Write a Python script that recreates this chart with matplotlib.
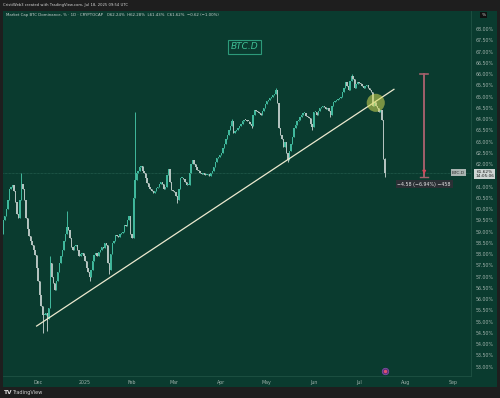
import numpy as np
import pandas as pd
import matplotlib
matplotlib.use("Agg")
import matplotlib.pyplot as plt
import matplotlib.dates as mdates
from matplotlib.patches import Rectangle

# daily closes of BTC.D (%), Nov 8 2024 .. Jul 18 2025
nov = [59.5, 59.7, 60.0, 60.4, 60.9, 61.0, 61.05, 60.8, 60.3, 59.8, 59.6, 60.4,
       61.1, 60.9, 60.4, 59.6, 59.1, 58.8, 58.6, 58.4, 58.2, 57.95, 57.4]
dec = [56.8, 56.2, 55.7, 55.3, 55.3, 55.4, 55.1, 55.6, 57.6, 57.0, 56.7, 56.4,
       56.8, 57.2, 57.6, 57.9, 58.2, 58.6, 58.9, 59.2, 59.05, 58.7, 58.3, 58.2,
       58.35, 58.4, 58.2, 57.9, 58.0, 58.05, 57.9]
jan = [57.7, 57.4, 57.2, 57.0, 57.3, 57.7, 57.95, 58.05, 57.9, 58.1, 58.2, 58.3,
       58.25, 58.5, 58.4, 57.6, 57.3, 58.0, 58.5, 58.6, 58.85, 58.8, 58.75, 58.9,
       58.95, 59.0, 59.3, 59.25, 59.5, 59.7, 58.9]
feb = [58.7, 60.5, 61.3, 61.6, 61.7, 61.85, 61.9, 61.7, 61.6, 61.4, 61.15, 61.0,
       60.9, 60.8, 60.7, 60.8, 60.95, 61.0, 61.1, 61.2, 61.1, 60.9, 61.0, 61.5,
       61.8, 61.2, 60.85, 60.8]
mar = [60.75, 60.6, 60.4, 60.9, 61.4, 61.4, 61.35, 61.2, 61.05, 61.05, 61.6, 62.0,
       62.2, 62.0, 61.85, 61.75, 61.7, 61.6, 61.55, 61.6, 61.5, 61.5, 61.55, 61.45,
       61.6, 61.7, 61.87, 62.1, 62.25, 62.3, 62.4]
apr = [62.5, 62.7, 62.9, 63.1, 63.3, 63.5, 63.7, 63.9, 63.4, 63.45, 63.5, 63.6,
       63.7, 63.8, 63.9, 63.96, 63.95, 63.9, 63.87, 63.8, 63.7, 64.2, 64.4, 64.35,
       64.3, 64.25, 64.2, 64.35, 64.5, 64.65]
may = [64.8, 64.85, 64.95, 65.0, 65.05, 65.1, 65.3, 64.7, 63.6, 63.3, 63.1, 62.75,
       63.0, 62.5, 62.2, 62.6, 62.9, 63.2, 63.6, 63.75, 63.9, 63.96, 64.1, 64.2,
       64.25, 64.26, 64.15, 64.1, 64.05, 63.8, 63.65]
jun = [64.3, 64.3, 64.2, 64.35, 64.5, 64.55, 64.6, 64.55, 64.45, 64.5, 64.35, 64.2,
       64.6, 64.75, 64.8, 64.85, 64.9, 64.95, 65.0, 65.2, 65.4, 65.65, 65.45, 65.3,
       65.7, 65.9, 65.8, 65.4, 65.55, 65.65]
jul = [65.6, 65.55, 65.45, 65.4, 65.45, 65.5, 65.4, 65.3, 65.2, 64.6, 64.75, 64.6,
       64.5, 64.3, 64.4, 63.96, 62.24, 61.62]
first_open = 58.9

# notable wicks
wick_high = {"2024-11-20": 61.6, "2024-12-09": 57.9, "2024-12-20": 59.9,
             "2025-02-03": 64.3, "2025-04-08": 64.0, "2025-05-07": 65.4,
             "2025-06-26": 66.0, "2025-07-18": 62.28}
wick_low = {"2024-12-04": 54.5, "2024-12-07": 54.6, "2025-01-04": 56.8,
            "2025-01-17": 57.1, "2025-03-03": 60.27, "2025-04-21": 63.6,
            "2025-05-15": 62.1, "2025-05-31": 63.5, "2025-06-12": 64.1,
            "2025-07-18": 61.43}

month_ticks = ["2024-12-01", "2025-01-01", "2025-02-01", "2025-03-01", "2025-04-01",
               "2025-05-01", "2025-06-01", "2025-07-01", "2025-08-01", "2025-09-01"]
month_labels = ["Dec", "2025", "Feb", "Mar", "Apr", "May", "Jun", "Jul", "Aug", "Sep"]
# 61.50% sits under the last-price label, so it is not listed
price_ticks = [53.0, 53.5, 54.0, 54.5, 55.0, 55.5, 56.0, 56.5, 57.0, 57.5, 58.0, 58.5,
               59.0, 59.5, 60.0, 60.5, 61.0, 62.0, 62.5, 63.0, 63.5, 64.0, 64.5,
               65.0, 65.5, 66.0, 66.5, 67.0, 67.5, 68.0]

trend_start = ("2024-11-30", 54.8)
trend_end = ("2025-07-24", 65.32)
measure_top = 66.0
measure_bottom = 61.42
last_price = 61.62

BG = "#0a3b2f"
FRAME = "#1e1e1e"
UP = "#40b89c"
DOWN = "#b3c2be"
TXT = "#9fb1ab"

closes = np.array(nov + dec + jan + feb + mar + apr + may + jun + jul)
dates = pd.date_range("2024-11-08", periods=len(closes), freq="D")
opens = np.r_[first_open, closes[:-1]]
highs = np.maximum(opens, closes)
lows = np.minimum(opens, closes)
for d, v in wick_high.items():
    highs[dates.get_loc(pd.Timestamp(d))] = v
for d, v in wick_low.items():
    lows[dates.get_loc(pd.Timestamp(d))] = v

x = mdates.date2num(dates)
colors = np.where(closes >= opens, UP, DOWN)

fig = plt.figure(figsize=(5, 3.98), dpi=100)
fig.patch.set_facecolor(FRAME)
fig.patches.append(Rectangle((3 / 500, 1 - 387 / 398), 494 / 500, 376 / 398,
                             transform=fig.transFigure, facecolor=BG, edgecolor="none", zorder=-10))

ax = fig.add_axes([3 / 500, 1 - 376 / 398, 468 / 500, 365 / 398])
ax.set_facecolor(BG)
ax.set_zorder(1)

ax.vlines(x, lows, highs, colors=colors, lw=0.7, zorder=3)
body = closes - opens
body = np.where(np.abs(body) < 0.04, 0.04, body)
ax.bar(x, body, bottom=opens, width=0.9, color=colors, linewidth=0, zorder=3)

x0 = mdates.date2num(pd.Timestamp("2024-11-08")) - 0.2
ax.set_xlim(x0, x0 + 309.1)
ax.set_ylim(52.58, 68.8)

# current price line
ax.axhline(last_price, color="#2f6a5a", lw=0.5, ls=(0, (1, 1)), zorder=2)

# trend line
tx = mdates.date2num(pd.to_datetime([trend_start[0], trend_end[0]]))
ax.plot(tx, [trend_start[1], trend_end[1]], color="#ece9cf", lw=0.9, zorder=4)

# highlight circle where price broke the trend line
cx = mdates.date2num(pd.Timestamp("2025-07-12"))
ax.scatter([cx], [64.72], s=170, color="#d6dc55", alpha=0.55, edgecolors="none", zorder=5)

# measuring tool
mx = mdates.date2num(pd.Timestamp("2025-08-13"))
ax.plot([mx, mx], [measure_top, measure_bottom], color="#a2606b", lw=1.4, zorder=5)
ax.plot([mx - 2.6, mx + 2.6], [measure_top, measure_top], color="#a2606b", lw=1.2, zorder=5)
ax.plot([mx - 2.6, mx + 2.6], [measure_bottom, measure_bottom], color="#a2606b", lw=1.0, zorder=5)
ax.annotate("", xy=(mx, measure_bottom), xytext=(mx, measure_bottom + 0.35),
            arrowprops=dict(arrowstyle="-|>", color="#d0485a", lw=0.8, mutation_scale=5), zorder=6)
ax.text(mx, 61.1, "\u22124.58 (\u22126.94%) \u2212458", fontsize=3.4, color="#e6e6e6",
        ha="center", va="center", zorder=7,
        bbox=dict(boxstyle="square,pad=0.35", facecolor="#2b3035", edgecolor="none"))

# chart title box
ax.text(0.517, 0.902, "BTC.D", transform=ax.transAxes, fontsize=6.5, style="italic",
        color="#3fbf95", ha="center", va="center", zorder=6,
        bbox=dict(boxstyle="square,pad=0.3", facecolor="none", edgecolor="#2d9a7a", lw=0.8))

# event icon
ex = mdates.date2num(pd.Timestamp("2025-07-18"))
ax.scatter([ex], [52.82], s=22, color="#5d2f78", edgecolors="#8a52b0", linewidths=0.5, zorder=6)
ax.scatter([ex], [52.82], s=2, color="#e05070", zorder=7)

# axes styling
ax.set_xticks(mdates.date2num(pd.to_datetime(month_ticks)))
ax.set_xticklabels(month_labels)
ax.set_yticks(price_ticks)
ax.set_yticklabels([f"{v:.2f}%" for v in price_ticks])
ax.yaxis.tick_right()
ax.tick_params(axis="both", length=0, labelsize=3.4, colors=TXT)
ax.tick_params(axis="y", pad=3)
ax.tick_params(axis="x", pad=3)
for s in ["top", "left"]:
    ax.spines[s].set_visible(False)
for s in ["right", "bottom"]:
    ax.spines[s].set_color("#1f5244")
    ax.spines[s].set_linewidth(0.6)

# last price label on the price scale
ytr = ax.get_yaxis_transform()
ax.text(0.9735, last_price, "BTC.D", transform=ytr, fontsize=3.2, color="#2b2b2b",
        ha="center", va="center", zorder=8, clip_on=False,
        bbox=dict(boxstyle="square,pad=0.25", facecolor="#aab4b1", edgecolor="none"))
ax.text(1.029, last_price + 0.12, "61.62%\n14:05:06", transform=ytr, fontsize=3.1,
        color="#1e1e1e", ha="center", va="top", zorder=8, clip_on=False, linespacing=1.05,
        bbox=dict(boxstyle="square,pad=0.2", facecolor="#cfd6d4", edgecolor="none"))

# "%" box at top of price scale
fig.text(483.5 / 500, 1 - 15 / 398, "%", fontsize=3.2, color="#d0d0d0", ha="center", va="center",
         bbox=dict(boxstyle="square,pad=0.3", facecolor="#111111", edgecolor="none"))

# header texts
fig.text(3 / 500, 1 - 5 / 398, "CristiWeb3 created with TradingView.com, Jul 18, 2025 09:54 UTC",
         fontsize=2.7, color="#d6d6d6", ha="left", va="center")
fig.text(6 / 500, 1 - 15 / 398,
         "Market Cap BTC Dominance, % \u00b7 1D \u00b7 CRYPTOCAP   O62.24%  H62.28%  L61.43%  C61.62%  \u22120.62 (\u22121.00%)",
         fontsize=2.8, color="#c9d2cf", ha="left", va="center")

# footer logo
fig.text(4 / 500, 1 - 392.5 / 398, "TV", fontsize=4.2, weight="bold", color="#e0e0e0",
         ha="left", va="center")
fig.text(12 / 500, 1 - 392.5 / 398, "TradingView", fontsize=3.6, color="#d0d0d0",
         ha="left", va="center")

fig.savefig("out.png", dpi=100, facecolor=FRAME)
